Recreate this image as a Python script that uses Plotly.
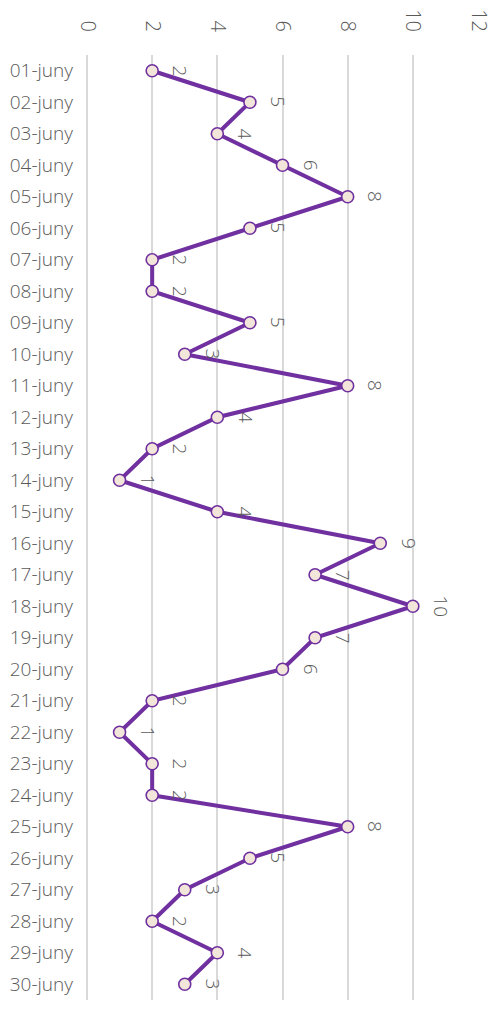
import plotly.graph_objects as go

days = [f"{d:02d}-juny" for d in range(1, 31)]
values = [2, 5, 4, 6, 8, 5, 2, 2, 5, 3, 8, 4, 2, 1, 4, 9, 7, 10, 7, 6, 2, 1, 2, 2, 8, 5, 3, 2, 4, 3]
x_ticks = [0, 2, 4, 6, 8, 10, 12]

purple = "#7030A0"
grey = "#595959"
font_family = "Open Sans, Noto Sans, sans-serif"

fig = go.Figure()
fig.add_trace(go.Scatter(
    x=values, y=days, mode="lines+markers",
    line=dict(color=purple, width=4),
    marker=dict(size=12, color="#F2E6DA", line=dict(color=purple, width=1.6)),
    hoverinfo="x+y",
))

annotations = [
    dict(x=v, y=d, text=str(v), showarrow=False, textangle=90, xshift=28,
         font=dict(family=font_family, size=19, color=grey, weight=300))
    for d, v in zip(days, values)
]

fig.update_layout(
    width=491, height=1007,
    margin=dict(l=79, r=21, t=47, b=15),
    plot_bgcolor="white", paper_bgcolor="white",
    showlegend=False,
    annotations=annotations,
    font=dict(family=font_family, size=18, color=grey, weight=300),
    xaxis=dict(side="top", range=[0, 12], tickvals=x_ticks, ticktext=[str(t) for t in x_ticks],
               tickangle=90, showgrid=True, gridcolor="#D9D9D9", gridwidth=1.5,
               zeroline=True, zerolinecolor="#D9D9D9", zerolinewidth=1.5,
               showline=False, ticks="", automargin=False, ticklabelstandoff=19,
               tickfont=dict(family=font_family, size=20, color=grey, weight=300)),
    yaxis=dict(categoryorder="array", categoryarray=days, range=[29.5, -0.5],
               showgrid=False, zeroline=False, showline=False, ticks="",
               automargin=False, ticklabelstandoff=13,
               tickfont=dict(family=font_family, size=19, color=grey, weight=300)),
)

fig.write_html("out.html")
